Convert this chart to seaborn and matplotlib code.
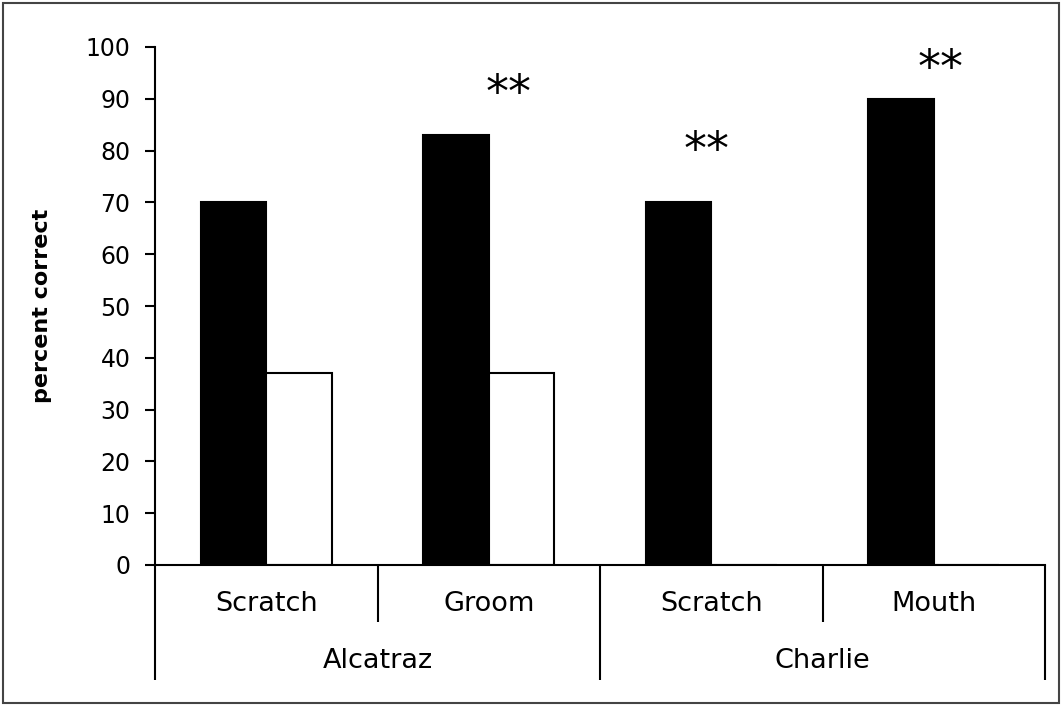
import matplotlib
matplotlib.use("Agg")
import matplotlib.pyplot as plt
import matplotlib.transforms as mtransforms
from matplotlib.patches import Rectangle
import pandas as pd
import seaborn as sns

# Data
groups = ["Alcatraz", "Alcatraz", "Charlie", "Charlie"]
behaviours = ["Scratch", "Groom", "Scratch", "Mouth"]
series = ["trained", "control"]
trained = [70, 83, 70, 90]
control = [37, 37, 0, 0]
star_x = [1.09, 1.98, 3.03]
star_y = [88.4, 77.4, 93.2]
star_text = ["**", "**", "**"]
group_names = ["Alcatraz", "Charlie"]
yticks = list(range(0, 101, 10))

keys = [f"{g} {b}" for g, b in zip(groups, behaviours)]
df = pd.DataFrame({
    "key": keys * 2,
    "series": [series[0]] * 4 + [series[1]] * 4,
    "value": trained + control,
})

sns.set_style("white")
plt.rcParams["font.family"] = ["DejaVu Sans"]
plt.rcParams["text.color"] = "black"
plt.rcParams["axes.labelcolor"] = "black"
plt.rcParams["ytick.color"] = "black"

fig = plt.figure(figsize=(10.63, 7.06), dpi=100)
ax = fig.add_axes([155 / 1063, 1 - 565 / 706, 890 / 1063, 518 / 706])

sns.barplot(
    data=df, x="key", y="value", hue="series", order=keys, hue_order=series,
    palette=["black", "white"], edgecolor="black", linewidth=1.5,
    width=0.59, dodge=True, legend=False, errorbar=None, ax=ax,
)

ax.set_xlim(-0.5, 3.5)
ax.set_ylim(0, 100)
ax.set_yticks(yticks)
ax.set_yticklabels([str(t) for t in yticks])
ax.tick_params(axis="y", direction="out", length=7.2, width=1.5,
               pad=10.5, labelsize=17, left=True, color="black",
               labelcolor="black")
ax.tick_params(axis="x", bottom=False, labelbottom=False)
ax.set_xlabel("")
ax.set_ylabel("percent correct", fontsize=16, fontweight="bold",
              color="black")
ax.yaxis.set_label_coords(-0.116, 0.5)

for side in ["top", "right"]:
    ax.spines[side].set_visible(False)
for side in ["left", "bottom"]:
    ax.spines[side].set_color("black")
    ax.spines[side].set_linewidth(1.5)

# Two-level category axis: separators and labels below the plot
trans = mtransforms.blended_transform_factory(ax.transData, ax.transAxes)
n = len(keys)
for i in range(n + 1):
    pos = i - 0.5
    boundary_of_group = i == 0 or i == n or groups[i - 1] != groups[i]
    bottom = -0.222 if boundary_of_group else -0.110
    ax.plot([pos, pos], [0, bottom], color="black", lw=1.5,
            transform=trans, clip_on=False, solid_capstyle="butt")

for i, b in enumerate(behaviours):
    ax.text(i, -0.075, b, transform=trans, ha="center", va="center",
            fontsize=19.5, color="black")

for g in group_names:
    idx = [i for i, gg in enumerate(groups) if gg == g]
    ax.text(sum(idx) / len(idx), -0.185, g, transform=trans,
            ha="center", va="center", fontsize=19.5, color="black")

# Significance markers
for x, y, t in zip(star_x, star_y, star_text):
    ax.text(x, y, t, ha="center", va="baseline", fontsize=33,
            color="black")

# Outer frame
fig.patches.append(Rectangle((3 / 1063, 3 / 706), 1056 / 1063, 700 / 706,
                             transform=fig.transFigure, fill=False,
                             edgecolor="#444444", linewidth=1.5))

fig.savefig("out.png", dpi=100, facecolor="white")
